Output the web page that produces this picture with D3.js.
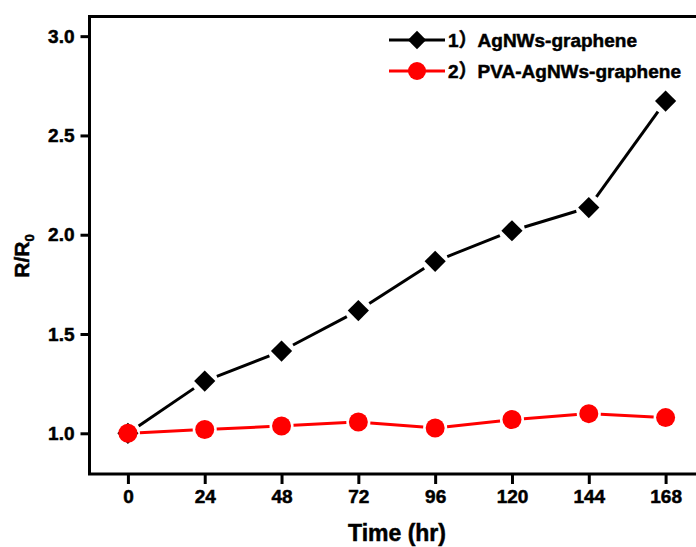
<!doctype html>
<html>
<head>
<meta charset="utf-8">
<script src="https://cdn.jsdelivr.net/npm/d3@7"></script>
<style>
    body { margin: 0; background: #fff; }
    svg { display: block; overflow: hidden; }
    svg text { font-family: "Liberation Sans", Arial, "Noto Sans CJK SC", sans-serif; font-weight: bold; fill: #000; stroke: #000; stroke-width: 0.5px; }
    .axis path, .axis line { stroke: #000; stroke-width: 3; }
</style>
</head>
<body>
<script>
    // hours and R/R0
    let hours = [0, 24, 48, 72, 96, 120, 144, 168];
    let agnws = [1.0, 1.263, 1.414, 1.618, 1.866, 2.02, 2.137, 2.673];
    let pvaAgnws = [1.0, 1.019, 1.037, 1.057, 1.027, 1.069, 1.099, 1.079];
    let yTicks = [1.0, 1.5, 2.0, 2.5, 3.0];
    let seriesNames = ["1\uFF09AgNWs-graphene", "2\uFF09PVA-AgNWs-graphene"];

    let width = 696,
        height = 547,
        margin = {top: 16.5, left: 89.5},
        plotRight = 704,
        plotBottom = 474;

    let x = d3.scaleLinear().domain([-12, 180]).range([margin.left, plotRight]);
    let y = d3.scaleLinear().domain([0.795, 3.099]).range([plotBottom, margin.top]);

    let svg = d3.select("body").append("svg")
        .attr("width", width)
        .attr("height", height);

    // frame (right side runs off the picture)
    svg.append("rect")
        .attr("x", margin.left)
        .attr("y", margin.top)
        .attr("width", plotRight - margin.left)
        .attr("height", plotBottom - margin.top)
        .attr("fill", "none")
        .attr("stroke", "#000")
        .attr("stroke-width", 3);

    let xAxis = svg.append("g")
        .attr("class", "axis")
        .attr("transform", "translate(0," + plotBottom + ")")
        .call(d3.axisBottom(x).tickValues(hours).tickSize(10).tickPadding(6).tickSizeOuter(0));
    xAxis.select(".domain").remove();
    xAxis.selectAll("text").attr("font-size", 19);

    let yAxis = svg.append("g")
        .attr("class", "axis")
        .attr("transform", "translate(" + margin.left + ",0)")
        .call(d3.axisLeft(y).tickValues(yTicks).tickFormat(d3.format(".1f")).tickSize(9).tickPadding(6).tickSizeOuter(0));
    yAxis.select(".domain").remove();
    yAxis.selectAll("text").attr("font-size", 19);

    // axis titles
    svg.append("text")
        .attr("x", 397)
        .attr("y", 541)
        .attr("text-anchor", "middle")
        .attr("font-size", 23)
        .text("Time (hr)");

    let yTitle = svg.append("text")
        .attr("transform", "translate(29,256) rotate(-90)")
        .attr("text-anchor", "middle")
        .attr("font-size", 21);
    yTitle.append("tspan").text("R/R");
    yTitle.append("tspan").attr("font-size", 13).attr("dy", 5).text("0");

    let diamond = d3.symbol().type(d3.symbolSquare).size(15 * 15);

    // lines stop a little short of the markers
    function drawSegments(values, color, gap) {
        let pts = hours.map((h, i) => [x(h), y(values[i])]);
        let segs = d3.pairs(pts).map(d => {
            let dx = d[1][0] - d[0][0], dy = d[1][1] - d[0][1], l = Math.hypot(dx, dy);
            return {
                x1: d[0][0] + dx / l * gap, y1: d[0][1] + dy / l * gap,
                x2: d[1][0] - dx / l * gap, y2: d[1][1] - dy / l * gap
            };
        });
        svg.append("g").selectAll("line")
            .data(segs)
            .enter().append("line")
            .attr("x1", d => d.x1)
            .attr("y1", d => d.y1)
            .attr("x2", d => d.x2)
            .attr("y2", d => d.y2)
            .attr("stroke", color)
            .attr("stroke-width", 3);
    }

    drawSegments(agnws, "#000", 13);
    drawSegments(pvaAgnws, "#f00", 12);

    svg.append("g").selectAll("path")
        .data(hours)
        .enter().append("path")
        .attr("d", diamond)
        .attr("transform", (d, i) => "translate(" + x(d) + "," + y(agnws[i]) + ") rotate(45)")
        .attr("fill", "#000");

    svg.append("g").selectAll("circle")
        .data(hours)
        .enter().append("circle")
        .attr("cx", d => x(d))
        .attr("cy", (d, i) => y(pvaAgnws[i]))
        .attr("r", 9.5)
        .attr("fill", "#f00");

    // legend
    let legend = svg.append("g");
    let rows = [
        {name: seriesNames[0], color: "#000", ly: 40},
        {name: seriesNames[1], color: "#f00", ly: 71}
    ];
    rows.forEach((r, i) => {
        legend.append("line")
            .attr("x1", 389).attr("x2", 445)
            .attr("y1", r.ly).attr("y2", r.ly)
            .attr("stroke", r.color).attr("stroke-width", 3);
        if (i === 0) {
            legend.append("path")
                .attr("d", d3.symbol().type(d3.symbolSquare).size(13 * 13))
                .attr("transform", "translate(417," + r.ly + ") rotate(45)")
                .attr("fill", "#000");
        } else {
            legend.append("circle")
                .attr("cx", 417).attr("cy", r.ly).attr("r", 9)
                .attr("fill", "#f00");
        }
        legend.append("text")
            .attr("x", 448)
            .attr("y", r.ly + 7)
            .attr("font-size", 19)
            .text(r.name);
    });
</script>
</body>
</html>
